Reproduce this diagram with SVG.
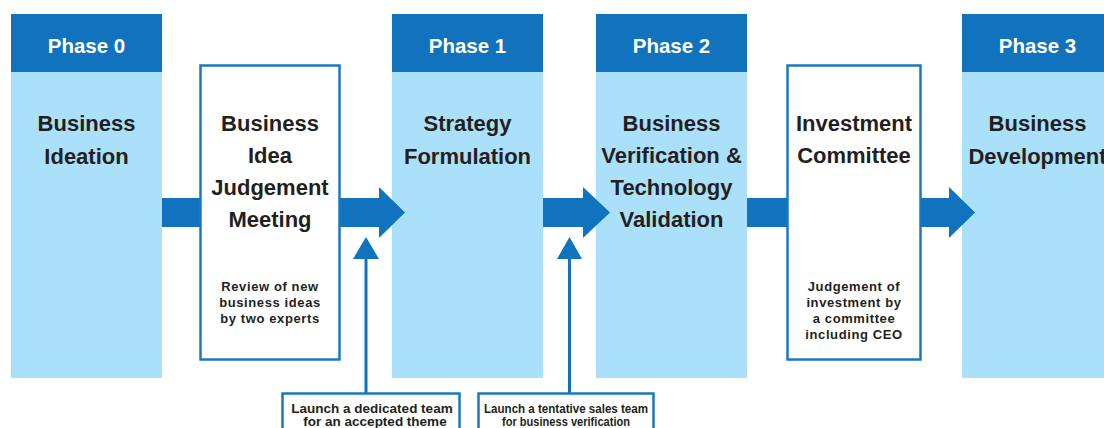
<svg xmlns="http://www.w3.org/2000/svg" width="1104" height="428" viewBox="0 0 1104 428">
<defs>
<style>
.hdr{fill:#1172bd}
.body{fill:#aae0f9}
.box{fill:#fff;stroke:#1a78c2;stroke-width:2.5}
.ph{font-family:"Liberation Sans",Arial,sans-serif;font-weight:bold;font-size:20.5px;fill:#fff;text-anchor:middle}
.tt{font-family:"Liberation Sans",Arial,sans-serif;font-weight:bold;font-size:22px;fill:#231f20;text-anchor:middle}
.sm{font-family:"Liberation Sans",Arial,sans-serif;font-weight:bold;font-size:13px;letter-spacing:0.6px;fill:#231f20;text-anchor:middle}
.nt{font-family:"Liberation Sans",Arial,sans-serif;font-weight:bold;font-size:13.5px;fill:#231f20;text-anchor:middle}
.arr{fill:#1172bd}
.ln{stroke:#1172bd;stroke-width:3;fill:none}
</style>
</defs>
<rect width="1104" height="428" fill="#fff"/>

<g id="phase0">
<rect class="body" x="11" y="72" width="151" height="306"/>
<rect class="hdr" x="11" y="14" width="151" height="58"/>
<text class="ph" x="86.5" y="53">Phase 0</text>
<text class="tt" x="86.5" y="131">Business</text>
<text class="tt" x="86.5" y="164">Ideation</text>
</g>

<g id="phase1">
<rect class="body" x="392" y="72" width="151" height="306"/>
<rect class="hdr" x="392" y="14" width="151" height="58"/>
<text class="ph" x="467.5" y="53">Phase 1</text>
<text class="tt" x="467.5" y="131">Strategy</text>
<text class="tt" x="467.5" y="164">Formulation</text>
</g>

<g id="phase2">
<rect class="body" x="596" y="72" width="151" height="306"/>
<rect class="hdr" x="596" y="14" width="151" height="58"/>
<text class="ph" x="671.5" y="53">Phase 2</text>
<text class="tt" x="671.5" y="131">Business</text>
<text class="tt" x="671.5" y="163">Verification &amp;</text>
<text class="tt" x="671.5" y="195">Technology</text>
<text class="tt" x="671.5" y="227">Validation</text>
</g>

<g id="phase3">
<rect class="body" x="962" y="72" width="151" height="306"/>
<rect class="hdr" x="962" y="14" width="151" height="58"/>
<text class="ph" x="1037.5" y="53">Phase 3</text>
<text class="tt" x="1037.5" y="131">Business</text>
<text class="tt" x="1037.5" y="164">Development</text>
</g>

<g id="connectors">
<rect class="arr" x="162" y="198" width="40" height="29"/>
<polygon class="arr" points="339,198 379,198 379,187 405,212.5 379,238 379,227 339,227"/>
<polygon class="arr" points="543,198 583,198 583,187 610,212.5 583,238 583,227 543,227"/>
<rect class="arr" x="747" y="198" width="42" height="29"/>
<polygon class="arr" points="920,198 949,198 949,187 975,212.5 949,238 949,227 920,227"/>
<line class="ln" x1="366" y1="258" x2="366" y2="393"/>
<polygon class="arr" points="366,237 379,259 353,259"/>
<line class="ln" x1="569.5" y1="258" x2="569.5" y2="393"/>
<polygon class="arr" points="569.5,237 582,259 557,259"/>
</g>

<g id="judgement">
<rect class="box" x="200.5" y="65.5" width="139" height="294"/>
<text class="tt" x="270" y="131">Business</text>
<text class="tt" x="270" y="163">Idea</text>
<text class="tt" x="270" y="195">Judgement</text>
<text class="tt" x="270" y="227">Meeting</text>
<text class="sm" x="270" y="291">Review of new</text>
<text class="sm" x="270" y="307">business ideas</text>
<text class="sm" x="270" y="323">by two experts</text>
</g>

<g id="investment">
<rect class="box" x="787.5" y="65.5" width="133" height="294"/>
<text class="tt" x="854" y="131">Investment</text>
<text class="tt" x="854" y="163">Committee</text>
<text class="sm" x="854" y="291">Judgement of</text>
<text class="sm" x="854" y="307">investment by</text>
<text class="sm" x="854" y="323">a committee</text>
<text class="sm" x="854" y="339">including CEO</text>
</g>

<g id="note1">
<rect class="box" x="282.5" y="393.5" width="177" height="40"/>
<text class="nt" x="372" y="413">Launch a dedicated team</text>
<text class="nt" x="375" y="426">for an accepted theme</text>
</g>

<g id="note2">
<rect class="box" x="478.5" y="393.5" width="175" height="40"/>
<text class="nt" x="566" y="413" textLength="164" lengthAdjust="spacingAndGlyphs">Launch a tentative sales team</text>
<text class="nt" x="566" y="426" textLength="128" lengthAdjust="spacingAndGlyphs">for business verification</text>
</g>
</svg>
